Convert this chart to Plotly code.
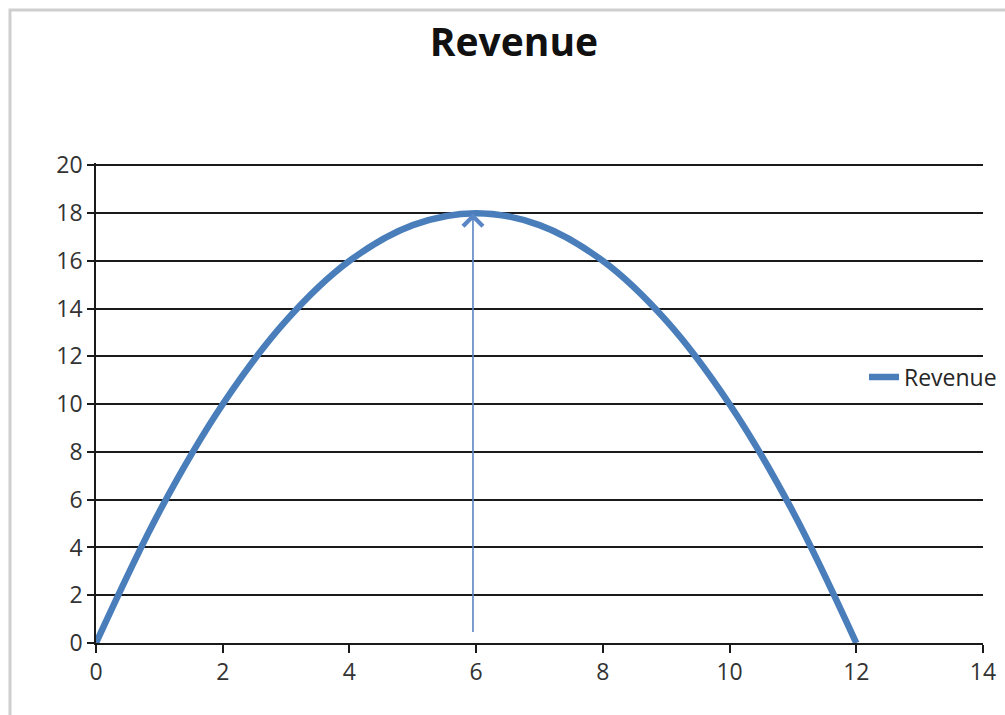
import plotly.graph_objects as go

# Data
quantity = [0, 1, 2, 3, 4, 5, 6, 7, 8, 9, 10, 11, 12]
revenue = [0, 5.5, 10, 13.5, 16, 17.5, 18, 17.5, 16, 13.5, 10, 5.5, 0]
series_name = "Revenue"
chart_title = "Revenue"
x_ticks = [0, 2, 4, 6, 8, 10, 12, 14]
y_ticks = [0, 2, 4, 6, 8, 10, 12, 14, 16, 18, 20]
arrow_x = 5.95
arrow_bottom = 0.4
arrow_top = 18

W, H = 1005, 715
ML, MR, MT, MB = 96, 22, 163, 72
pw = W - ML - MR
ph = H - MT - MB

BLUE = "#4A7EBB"
FONT = "Open Sans"

fig = go.Figure()
fig.add_trace(go.Scatter(
    x=quantity, y=revenue, mode="lines", name=series_name,
    line=dict(color=BLUE, width=6.5, shape="spline", smoothing=1.0),
    showlegend=True,
))

fig.add_annotation(
    x=arrow_x, y=arrow_top, ax=arrow_x, ay=arrow_bottom,
    xref="x", yref="y", axref="x", ayref="y",
    text="", showarrow=True, arrowhead=4, arrowsize=2.4,
    arrowwidth=1.6, arrowcolor="#5B86C5", standoff=0,
)

# Outer gray frame (top and left edges visible)
fig.add_shape(type="rect", xref="paper", yref="paper",
              x0=(10 - ML) / pw, x1=(W + 20 - ML) / pw,
              y0=(ph - (H + 20 - MT)) / ph, y1=(ph - (10 - MT)) / ph,
              line=dict(color="#CFCFCF", width=3), layer="below")

fig.update_layout(
    width=W, height=H,
    margin=dict(l=ML, r=MR, t=MT, b=MB, autoexpand=False),
    paper_bgcolor="white", plot_bgcolor="white",
    font=dict(family=FONT, color="#262626", size=23),
    title=dict(text="<b>" + chart_title + "</b>",
               x=514 / W, xref="container", xanchor="center",
               y=1 - 42 / H, yref="container", yanchor="middle",
               font=dict(family=FONT, size=39, color="#111111")),
    legend=dict(x=(864 - ML) / pw, y=(643 - 377) / ph, xanchor="left", yanchor="middle",
                font=dict(family=FONT, size=23, color="#262626"),
                bgcolor="rgba(0,0,0,0)", itemwidth=30),
    showlegend=True,
)

fig.update_xaxes(
    range=[0, 14], tickvals=x_ticks, ticktext=[str(v) for v in x_ticks],
    showgrid=False, zeroline=False, automargin=False,
    showline=True, linecolor="#1a1a1a", linewidth=1.5,
    ticks="outside", ticklen=8, tickwidth=1.5, tickcolor="#1a1a1a",
    tickfont=dict(family=FONT, size=23, color="#333333"),
)
fig.update_yaxes(
    range=[0, 20.1], tickvals=y_ticks, ticktext=[str(v) for v in y_ticks],
    showgrid=True, gridcolor="#1a1a1a", gridwidth=1.5, zeroline=False, automargin=False,
    showline=True, linecolor="#1a1a1a", linewidth=1.5,
    ticks="outside", ticklen=7, tickwidth=1.5, tickcolor="#1a1a1a",
    tickfont=dict(family=FONT, size=23, color="#333333"),
)

fig.write_html("out.html")
